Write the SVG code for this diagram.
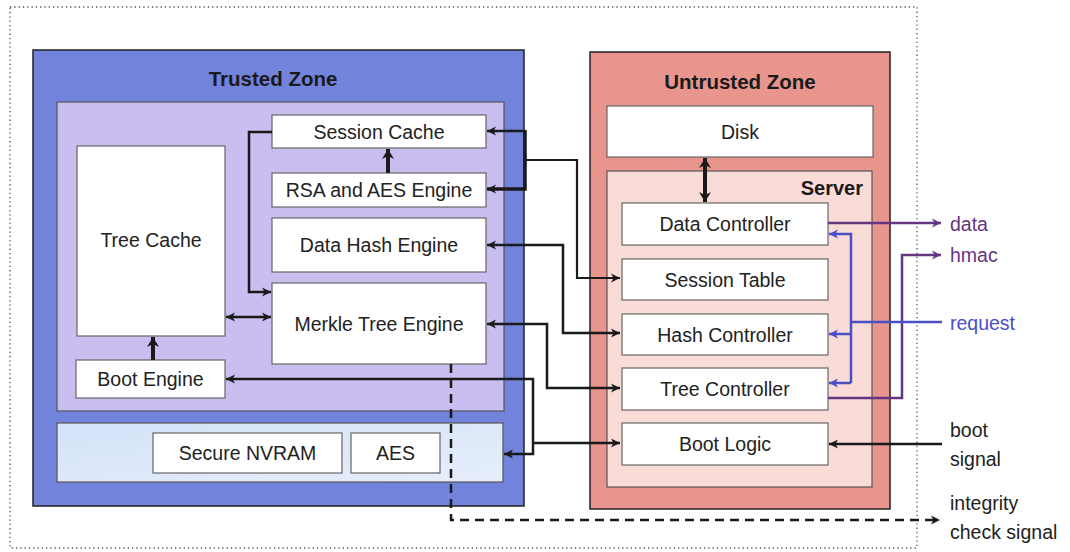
<svg xmlns="http://www.w3.org/2000/svg" width="1070" height="552" viewBox="0 0 1070 552">
<style>
text{font-family:"Liberation Sans",Arial,sans-serif;font-size:19.5px;fill:#222}
.t{font-weight:bold;font-size:20.5px;text-anchor:middle;fill:#1a1a1a}
.c{text-anchor:middle}
.box{fill:#fff;stroke:#666;stroke-width:1.2}
.ln{fill:none;stroke:#1a1a1a;stroke-width:2.5}
.thick{fill:none;stroke:#1a1a1a;stroke-width:4}
.pu{fill:none;stroke:#66357f;stroke-width:2.5}
.bl{fill:none;stroke:#4a4fc4;stroke-width:2.5}
.lab{font-size:19.5px}
</style>
<defs>
<marker id="ak" markerUnits="userSpaceOnUse" markerWidth="12" markerHeight="12" refX="10" refY="6" orient="auto-start-reverse"><path d="M1,1.5 L10,6 L1,10.5 L3.5,6 Z" fill="#1a1a1a"/></marker>
<marker id="akt" markerUnits="userSpaceOnUse" markerWidth="14" markerHeight="14" refX="11" refY="7" orient="auto-start-reverse"><path d="M1,1 L11,7 L1,13 L4,7 Z" fill="#1a1a1a"/></marker>
<marker id="ap" markerUnits="userSpaceOnUse" markerWidth="12" markerHeight="12" refX="10" refY="6" orient="auto-start-reverse"><path d="M1,1.5 L10,6 L1,10.5 L3.5,6 Z" fill="#66357f"/></marker>
<marker id="ab" markerUnits="userSpaceOnUse" markerWidth="12" markerHeight="12" refX="10" refY="6" orient="auto-start-reverse"><path d="M1,1.5 L10,6 L1,10.5 L3.5,6 Z" fill="#4a4fc4"/></marker>
<linearGradient id="lb" x1="0" y1="0" x2="1" y2="1"><stop offset="0" stop-color="#d4e2f8"/><stop offset="1" stop-color="#e6eefb"/></linearGradient>
</defs>
<rect x="10" y="7" width="907" height="541" fill="none" stroke="#555" stroke-width="1.3" stroke-dasharray="1.3,3"/>
<g id="trusted-zone">
<rect x="33" y="50" width="491" height="456" fill="#7283dc" stroke="#222" stroke-width="1.5"/>
<text class="t" x="273" y="86">Trusted Zone</text>
<rect x="57" y="102" width="447" height="309" fill="#cabdf0" stroke="#555" stroke-width="1.2"/>
<rect x="57" y="423" width="446" height="59" fill="url(#lb)" stroke="#555" stroke-width="1.2"/>
</g>
<g id="untrusted-zone">
<rect x="590" y="52" width="300" height="457" fill="#e8958e" stroke="#222" stroke-width="1.5"/>
<text class="t" x="740" y="89">Untrusted Zone</text>
</g>
<g id="server">
<rect x="607" y="171" width="265" height="316" fill="#f9dcd8" stroke="#555" stroke-width="1.2"/>
<text x="863" y="195" style="font-weight:bold;font-size:20px;text-anchor:end;fill:#1a1a1a">Server</text>
</g>
<g id="session-cache"><rect class="box" x="272" y="115" width="214" height="33"/><text class="c" x="379" y="138.5">Session Cache</text></g>
<g id="rsa-aes-engine"><rect class="box" x="272" y="173" width="214" height="34"/><text class="c" x="379" y="197">RSA and AES Engine</text></g>
<g id="data-hash-engine"><rect class="box" x="272" y="218" width="214" height="54"/><text class="c" x="379" y="252">Data Hash Engine</text></g>
<g id="merkle-tree-engine"><rect class="box" x="272" y="283" width="214" height="81"/><text class="c" x="379" y="330.5">Merkle Tree Engine</text></g>
<g id="tree-cache"><rect class="box" x="77" y="146" width="148" height="190"/><text class="c" x="151" y="247">Tree Cache</text></g>
<g id="boot-engine"><rect class="box" x="76" y="360" width="149" height="38"/><text class="c" x="150.5" y="386">Boot Engine</text></g>
<g id="secure-nvram"><rect class="box" x="153" y="433" width="189" height="40"/><text class="c" x="247.5" y="460">Secure NVRAM</text></g>
<g id="aes"><rect class="box" x="351" y="433" width="89" height="40"/><text class="c" x="395.5" y="460">AES</text></g>
<g id="disk"><rect class="box" x="607" y="106" width="266" height="51"/><text class="c" x="740" y="138.5">Disk</text></g>
<g id="data-controller"><rect class="box" x="622" y="203" width="206" height="42"/><text class="c" x="725" y="231">Data Controller</text></g>
<g id="session-table"><rect class="box" x="622" y="259" width="206" height="41"/><text class="c" x="725" y="286.5">Session Table</text></g>
<g id="hash-controller"><rect class="box" x="622" y="314" width="206" height="41"/><text class="c" x="725" y="341.5">Hash Controller</text></g>
<g id="tree-controller"><rect class="box" x="622" y="368" width="206" height="42"/><text class="c" x="725" y="396">Tree Controller</text></g>
<g id="boot-logic"><rect class="box" x="622" y="423" width="206" height="42"/><text class="c" x="725" y="450.5">Boot Logic</text></g>
<g id="labels">
<text class="lab" x="950" y="231" style="fill:#66357f">data</text>
<text class="lab" x="950" y="262" style="fill:#66357f">hmac</text>
<text class="lab" x="950" y="330" style="fill:#4a4fc4">request</text>
<text class="lab" x="950" y="437">boot</text>
<text class="lab" x="950" y="466">signal</text>
<text class="lab" x="950" y="510">integrity</text>
<text class="lab" x="950" y="539">check signal</text>
</g>
<g id="connectors">
<path class="thick" d="M705,158 L705,202" marker-start="url(#akt)" marker-end="url(#akt)"/>
<path class="thick" d="M388,173 L388,149" marker-end="url(#akt)"/>
<path class="thick" d="M153,360 L153,337" marker-end="url(#akt)"/>
<path class="ln" d="M226,317 L271,317" marker-start="url(#ak)" marker-end="url(#ak)"/>
<path class="ln" d="M272,132 L249,132 L249,292 L271,292" marker-end="url(#ak)"/>
<path class="ln" d="M525,131 L487,131" marker-end="url(#ak)"/>
<path class="ln" d="M525,130 L525,189 L487,189" style="stroke-width:3.5" marker-end="url(#ak)"/>
<path class="ln" d="M525,160 L577,160 L577,278 L620,278" style="stroke-width:2.2" marker-end="url(#ak)"/>
<path class="ln" d="M620,333 L563,333 L563,245 L487,245" marker-start="url(#ak)" marker-end="url(#ak)"/>
<path class="ln" d="M620,388 L547,388 L547,324 L487,324" marker-start="url(#ak)" marker-end="url(#ak)"/>
<path class="ln" d="M226,379 L533,379 L533,454 L504,454" marker-start="url(#ak)" marker-end="url(#ak)"/>
<path class="ln" d="M533,443 L620,443" marker-end="url(#ak)"/>
<path class="ln" d="M451,364 L451,520 L940,520" stroke-dasharray="9,6" marker-end="url(#ak)"/>
<path class="ln" d="M942,444 L829,444" marker-end="url(#ak)"/>
<path class="pu" d="M828,223 L941,223" marker-end="url(#ap)"/>
<path class="pu" d="M828,398 L902,398 L902,255 L941,255" marker-end="url(#ap)"/>
<path class="bl" d="M942,322 L851,322"/>
<path class="bl" d="M851,383 L851,234 L829,234" marker-end="url(#ab)"/>
<path class="bl" d="M851,334 L829,334" marker-end="url(#ab)"/>
<path class="bl" d="M851,383 L829,383" marker-end="url(#ab)"/>
</g>
</svg>
